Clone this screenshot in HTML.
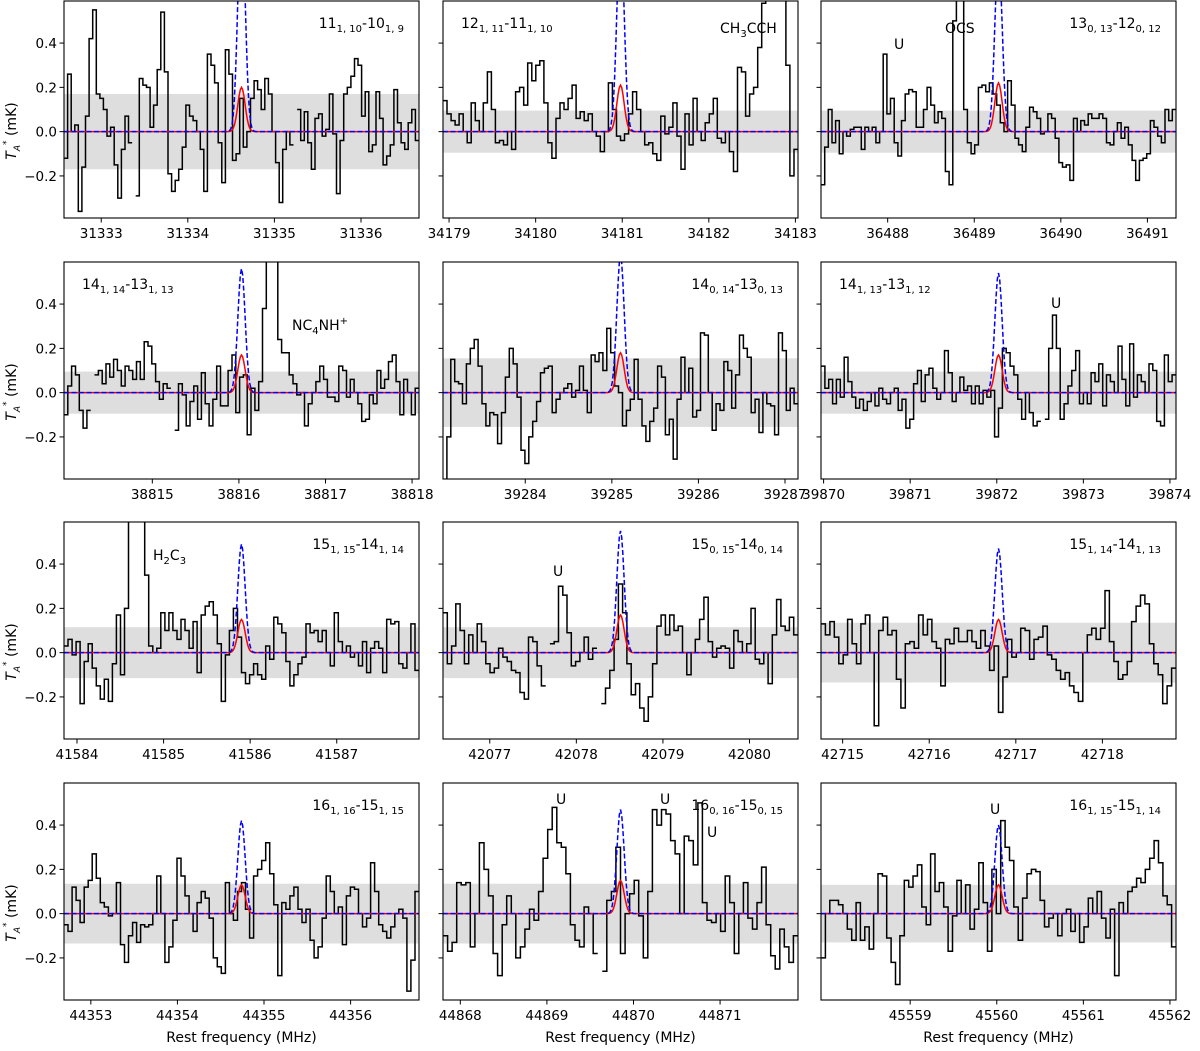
<!DOCTYPE html>
<html><head><meta charset="utf-8"><title>Spectra panels</title>
<style>
html,body{margin:0;padding:0;background:#fff;}
svg{display:block;font-family:"DejaVu Sans","Liberation Sans",sans-serif;}
</style></head>
<body>
<svg id="fig" width="1200" height="1051" viewBox="0 0 1200 1051" xmlns="http://www.w3.org/2000/svg"></svg>
<script>
// ---- data ----
const centers = [31334.62, 34180.98, 36489.28, 38816.03, 39285.1, 39872.02, 41585.9, 42078.51, 42716.8, 44354.74, 44869.85, 45560.02];
const rmsValues = [0.17, 0.095, 0.095, 0.095, 0.155, 0.095, 0.115, 0.115, 0.135, 0.135, 0.135, 0.13];
const redPeaks = [0.20, 0.21, 0.22, 0.17, 0.18, 0.17, 0.15, 0.17, 0.15, 0.13, 0.15, 0.13];
const bluePeaks = [1.0, 0.9, 0.8, 0.56, 0.62, 0.54, 0.49, 0.55, 0.47, 0.42, 0.47, 0.40];
const xTicks = [
 [31333,31334,31335,31336],[34179,34180,34181,34182,34183],[36488,36489,36490,36491],
 [38815,38816,38817,38818],[39284,39285,39286,39287],[39870,39871,39872,39873,39874],
 [41584,41585,41586,41587],[42077,42078,42079,42080],[42715,42716,42717,42718],
 [44353,44354,44355,44356],[44868,44869,44870,44871],[45559,45560,45561,45562]];
const yTicks = [-0.2, 0.0, 0.2, 0.4];
const yTickLabels = ["\u22120.2","0.0","0.2","0.4"];
const titles = [
 ["11","1, 10","10","1, 9"],["12","1, 11","11","1, 10"],["13","0, 13","12","0, 12"],
 ["14","1, 14","13","1, 13"],["14","0, 14","13","0, 13"],["14","1, 13","13","1, 12"],
 ["15","1, 15","14","1, 14"],["15","0, 15","14","0, 14"],["15","1, 14","14","1, 13"],
 ["16","1, 16","15","1, 15"],["16","0, 16","15","0, 15"],["16","1, 15","15","1, 14"]];
const spec0 = [-0.12,0.26,0.0,0.03,-0.36,-0.16,0.07,0.42,0.55,0.17,0.15,0.10,-0.02,0.02,-0.15,-0.30,-0.08,0.07,-0.05,null,-0.29,0.24,0.21,0.20,0.02,0.12,0.28,0.54,0.27,-0.19,-0.27,-0.22,-0.17,-0.07,0.12,0.07,0.05,0.0,-0.08,-0.27,0.35,0.30,0.22,-0.05,-0.23,0.37,0.26,-0.13,-0.10,0.15,-0.07,0.0,0.15,0.23,0.19,0.10,0.24,0.17,0.0,-0.14,-0.32,-0.08,0.0,-0.06,null,0.10,-0.04,0.09,-0.05,-0.17,0.06,0.08,-0.02,0.01,0.17,-0.01,-0.28,-0.04,0.17,0.20,0.25,0.33,0.30,0.07,0.18,-0.09,-0.06,0.18,0.06,-0.15,-0.11,-0.06,0.19,0.04,-0.05,-0.08,0.04,0.10,-0.04];
const spec1 = [0.14,0.08,0.05,0.03,0.08,0.00,-0.05,0.13,0.05,0.0,0.13,0.27,0.10,-0.05,-0.04,-0.06,0.0,-0.08,0.18,0.20,0.12,0.31,0.23,0.30,0.32,0.13,-0.05,-0.12,0.06,0.13,0.10,0.15,0.21,0.06,0.09,0.05,0.08,0.0,-0.02,-0.09,0.0,0.22,0.10,-0.02,-0.04,-0.01,0.08,0.18,0.10,0.0,-0.06,-0.05,-0.10,-0.13,0.07,-0.01,0.02,0.13,-0.02,-0.17,0.08,-0.06,0.15,0.0,-0.04,0.04,0.08,0.15,-0.03,-0.05,0.0,-0.09,-0.18,0.29,0.27,0.07,0.17,0.20,0.38,0.58,0.66,0.66,0.8,0.9,0.9,0.3,-0.2,-0.08];
const spec2 = [-0.24,-0.07,0.10,-0.05,0.05,-0.1,0.0,-0.02,0.01,0.02,0.02,-0.08,0.02,0.0,0.02,-0.05,0.0,0.35,0.08,0.15,-0.05,-0.11,0.05,0.17,0.19,0.18,0.02,0.02,0.10,0.20,0.12,0.04,0.09,0.06,-0.18,-0.24,0.5,1.0,1.0,0.1,-0.05,-0.1,-0.06,0.20,0.21,0.18,0.22,0.17,0.12,0.04,0.0,0.23,0.12,-0.03,-0.06,-0.09,0.02,0.11,0.09,0.06,-0.01,0.0,0.08,0.06,-0.03,-0.14,-0.16,-0.15,-0.22,0.06,0.0,0.05,0.03,0.08,0.06,0.06,0.08,0.06,-0.05,-0.06,0.0,0.04,-0.03,0.02,-0.06,-0.13,-0.22,-0.13,-0.12,-0.1,0.05,0.02,-0.02,-0.05,0.10,0.05,0.10];
const spec3 = [-0.1,0.03,0.12,0.08,-0.08,-0.16,-0.08,null,0.08,0.10,0.04,0.13,0.07,0.15,0.10,0.03,0.12,0.10,0.06,0.14,0.06,0.23,0.21,0.13,0.05,-0.03,0.04,0.02,null,-0.17,0.04,-0.01,-0.15,-0.04,0.03,-0.12,0.09,-0.05,-0.15,-0.03,0.12,-0.06,-0.06,0.10,0.17,-0.09,0.07,0.08,-0.19,0.02,-0.08,0.05,0.38,0.6,1.0,1.0,0.24,0.18,0.18,0.08,0.04,-0.01,0.0,-0.15,-0.05,0.0,0.05,0.12,0.06,-0.02,-0.02,-0.04,0.12,0.10,-0.02,0.06,0.0,-0.05,-0.13,-0.12,-0.01,-0.05,0.10,0.02,0.06,0.14,0.17,0.05,-0.10,0.06,0.0,-0.10,0.02];
const spec4 = [-0.5,-0.2,0.15,0.05,0.04,-0.05,0.13,0.20,0.24,0.12,-0.05,-0.15,-0.09,-0.10,-0.23,-0.09,0.07,0.20,0.13,-0.02,-0.26,-0.32,-0.20,-0.13,-0.04,0.09,0.11,0.12,-0.09,-0.03,0.0,0.02,0.04,-0.02,0.01,0.12,0.01,-0.09,0.17,0.14,0.18,0.10,0.29,0.18,0.03,0.0,-0.15,-0.08,-0.03,0.15,-0.03,-0.15,-0.22,-0.13,-0.07,0.12,0.07,-0.19,-0.12,-0.30,-0.03,0.16,0.0,0.11,-0.11,-0.08,0.27,0.26,0.0,-0.17,-0.05,-0.08,0.14,0.10,-0.07,0.08,0.26,0.20,0.16,-0.09,-0.03,-0.18,0.0,-0.05,-0.06,-0.19,0.27,0.19,-0.08,0.02,-0.05];
const spec5 = [0.12,0.02,0.06,-0.05,0.06,-0.02,0.16,0.05,-0.02,-0.07,-0.03,-0.08,-0.04,0.0,-0.06,0.02,-0.03,-0.05,0.0,0.02,-0.08,-0.03,-0.16,-0.12,0.04,0.10,-0.04,0.08,0.11,0.02,-0.03,0.0,0.19,0.09,-0.04,0.0,0.07,0.01,0.03,-0.05,0.03,-0.05,0.01,-0.02,0.01,-0.20,-0.07,0.20,0.18,0.12,0.08,-0.03,-0.12,0.0,-0.09,-0.15,-0.13,null,-0.12,0.2,0.35,0.20,-0.12,-0.05,0.03,0.10,0.19,-0.05,0.0,-0.05,0.09,0.05,0.13,-0.06,0.08,0.05,0.0,0.21,0.06,-0.06,0.22,-0.02,0.08,0.05,0.00,0.13,0.10,-0.13,-0.15,0.17,0.05,0.08];
const spec6 = [0.03,0.06,-0.01,0.05,-0.23,-0.04,0.04,-0.07,-0.15,-0.21,-0.12,-0.22,-0.05,0.17,-0.10,0.20,0.8,1.0,1.0,0.80,0.35,0.03,0.0,0.02,0.18,0.10,0.18,0.10,0.06,0.15,0.10,0.02,0.14,-0.09,0.17,0.21,0.23,0.17,0.04,-0.22,-0.01,0.10,0.20,0.07,-0.09,-0.14,-0.10,-0.05,-0.10,-0.12,0.03,-0.03,0.16,0.13,0.09,-0.04,-0.15,-0.10,-0.05,-0.02,0.13,0.09,0.10,0.05,0.10,0.0,-0.06,0.18,0.05,0.0,0.03,-0.02,0.0,-0.06,0.05,-0.09,0.02,0.05,0.02,-0.09,0.15,0.13,0.14,-0.05,-0.07,0.0,0.13,-0.08];
const spec7 = [0.18,-0.05,0.03,0.22,0.10,-0.05,0.08,0.0,0.13,0.05,-0.05,-0.09,-0.07,0.02,-0.02,-0.04,-0.08,-0.09,-0.18,-0.21,0.07,0.05,-0.06,-0.15,null,0.04,0.05,0.30,0.26,0.09,-0.06,-0.04,0.0,0.07,-0.03,0.02,null,-0.23,-0.16,-0.08,0.06,0.31,0.18,-0.05,-0.19,-0.14,-0.25,-0.31,-0.20,-0.05,0.12,0.17,0.08,0.17,0.10,0.12,0.0,-0.10,0.0,0.06,0.15,0.25,0.05,-0.02,0.02,0.03,0.02,-0.07,0.10,0.05,0.0,0.04,0.20,-0.03,-0.05,0.0,-0.14,0.08,0.24,0.12,0.10,0.16,0.08];
const spec8 = [0.13,0.08,0.14,0.07,-0.05,-0.01,0.15,0.04,-0.05,0.13,0.17,0.0,-0.33,0.10,0.16,0.08,0.10,-0.12,-0.25,0.04,0.05,0.02,0.17,0.08,0.15,0.05,0.02,-0.15,0.06,0.04,0.11,0.05,0.05,0.10,0.05,0.02,0.10,0.03,-0.08,0.03,-0.27,-0.11,0.06,-0.02,0.0,0.11,0.10,-0.03,0.06,0.07,0.12,-0.01,-0.03,-0.08,-0.12,-0.09,-0.15,-0.18,-0.22,0.0,0.08,0.11,0.06,0.11,0.28,0.05,-0.04,-0.12,-0.10,-0.04,0.14,0.21,0.26,0.22,0.04,-0.05,-0.10,-0.23,-0.15,-0.07];
const spec9 = [-0.05,-0.08,0.12,0.06,-0.04,0.12,0.15,0.27,0.16,0.05,0.03,-0.01,0.0,0.14,-0.14,-0.22,-0.10,-0.04,-0.13,-0.05,-0.06,-0.05,0.0,0.17,0.0,-0.22,-0.15,-0.03,0.25,0.17,0.08,0.0,-0.08,0.05,0.10,0.07,-0.02,-0.20,-0.24,-0.27,0.14,0.0,-0.03,0.10,0.14,0.02,-0.11,0.17,0.20,0.24,0.32,0.18,0.04,-0.28,0.05,0.02,0.08,0.12,0.02,-0.04,0.02,-0.12,-0.20,-0.15,-0.02,0.17,0.10,0.0,0.03,-0.14,0.08,0.12,0.11,0.0,-0.06,-0.02,0.23,0.10,-0.05,-0.08,-0.11,-0.06,0.0,0.02,-0.02,-0.35,-0.21,0.10];
const spec10 = [-0.10,-0.17,-0.13,0.14,0.13,0.14,-0.15,0.0,0.32,0.20,0.08,-0.18,-0.28,-0.05,0.08,0.0,-0.20,-0.15,-0.07,0.02,-0.03,0.10,0.25,0.38,0.48,0.32,0.30,0.18,-0.05,-0.12,-0.15,0.03,0.0,-0.18,null,-0.26,0.06,0.10,0.30,-0.18,0.0,0.09,0.15,-0.01,-0.20,0.10,0.47,0.40,0.47,0.45,0.33,0.27,0.0,0.35,0.33,0.22,0.50,0.05,-0.03,-0.04,0.0,-0.08,0.17,0.05,-0.18,0.0,0.14,-0.02,-0.07,0.05,0.21,-0.05,-0.19,-0.25,-0.07,-0.15,-0.22,-0.10];
const spec11 = [-0.20,0.0,0.06,0.06,0.04,0.0,-0.07,-0.12,0.05,-0.12,-0.06,-0.16,0.0,0.18,0.17,-0.11,-0.22,-0.32,-0.10,0.15,0.12,0.17,0.22,0.03,-0.05,0.27,0.10,0.14,0.03,-0.17,-0.01,0.15,0.0,0.13,-0.07,0.02,0.23,0.05,-0.17,0.20,0.0,0.42,0.30,0.24,0.03,-0.12,0.07,0.18,0.20,0.19,0.06,-0.06,-0.02,0.0,-0.10,0.0,0.02,-0.08,0.0,-0.13,-0.06,0.07,0.0,0.10,-0.02,-0.11,0.02,-0.28,0.05,0.0,0.10,0.12,0.16,0.14,0.20,0.25,0.33,0.23,0.08,0.04,-0.15];
const spectra = [spec0,spec1,spec2,spec3,spec4,spec5,spec6,spec7,spec8,spec9,spec10,spec11];

// ---- layout ----
const NS = "http://www.w3.org/2000/svg";
const svg = document.getElementById('fig');
const colX = [64, 443, 821], rowY = [1, 262, 522, 783];
const PW = 355, PH = 217, HALF = 2.05, YMIN = -0.39, YMAX = 0.59, SIG = 0.042;
function mk(tag, attrs, parent){ const e=document.createElementNS(NS,tag); for(const k in attrs) e.setAttribute(k,attrs[k]); (parent||svg).appendChild(e); return e; }
function txt(x,y,s,attrs,parent){ const t=mk('text',Object.assign({x:x,y:y,'font-size':13.5,fill:'#000'},attrs||{}),parent); t.textContent=s; return t; }

const titlePos = ['r','l','r','l','r','l','r','r','r','r','r','r'];

for(let p=0;p<12;p++){
  const r=Math.floor(p/3), c=p%3, X0=colX[c], Y0=rowY[r];
  const fmin=centers[p]-HALF, fmax=centers[p]+HALF;
  const sx=f=>X0+(f-fmin)/(fmax-fmin)*PW;
  const sy=v=>Y0+(YMAX-v)/(YMAX-YMIN)*PH;
  const g=mk('g',{});
  
  
  const cp=mk('clipPath',{id:'cp'+p},g); mk('rect',{x:X0,y:Y0,width:PW,height:PH},cp);
  const band=mk('rect',{x:X0,y:sy(rmsValues[p]),width:PW,height:sy(-rmsValues[p])-sy(rmsValues[p]),fill:'#dedede'},g);
  
  
  const data=spectra[p], n=data.length, dw=(fmax-fmin)/n;
  let d='', pen=false;
  for(let i=0;i<n;i++){
    const v=data[i];
    if(v===null){pen=false;continue;}
    const xa=sx(fmin+i*dw), xb=sx(fmin+(i+1)*dw), y=sy(v);
    d+=(pen?'L':'M')+xa.toFixed(1)+' '+y.toFixed(1)+'L'+xb.toFixed(1)+' '+y.toFixed(1);
    pen=true;
  }
  const sp=mk('path',{d:d,fill:'none',stroke:'#000','stroke-width':1.5,'clip-path':'url(#cp'+p+')'},g);
  
  
  function gauss(amp){ let s=''; const N=300; for(let k=0;k<=N;k++){ const f=fmin+k*(fmax-fmin)/N; const v=amp*Math.exp(-0.5*Math.pow((f-centers[p])/SIG,2)); s+=(k?'L':'M')+sx(f).toFixed(2)+' '+sy(v).toFixed(2);} return s; }
  const red=mk('path',{d:gauss(redPeaks[p]),fill:'none',stroke:'#ff0000','stroke-width':1.5,'clip-path':'url(#cp'+p+')'},g);
  
  
  const blue=mk('path',{d:gauss(bluePeaks[p]),fill:'none',stroke:'#0000ff','stroke-width':1.5,'stroke-dasharray':'5,2.5','clip-path':'url(#cp'+p+')'},g);
  
  
  mk('rect',{x:X0,y:Y0,width:PW,height:PH,fill:'none',stroke:'#000','stroke-width':1.1},g);
  xTicks[p].forEach(t=>{ const x=sx(t); if(x<X0-0.5||x>X0+PW+0.5) return;
    mk('line',{x1:x,y1:Y0+PH,x2:x,y2:Y0+PH+4.5,stroke:'#000','stroke-width':1},g);
    const tl=txt(x,Y0+PH+20,String(t),{'text-anchor':'middle'},g);
    
    
  });
  yTicks.forEach((t,i)=>{ const y=sy(t);
    mk('line',{x1:X0-4.5,y1:y,x2:X0,y2:y,stroke:'#000','stroke-width':1},g);
    if(c===0){ const yl=txt(X0-7,y+5,yTickLabels[i],{'text-anchor':'end'},g);
      
       }
  });
  const tt=titles[p];
  const tEl=txt(0,Y0+27,'',{'font-size':14},g);
  
  
  tEl.innerHTML=tt[0]+'<tspan font-size="10" dy="4">'+tt[1]+'</tspan><tspan dy="-4">-'+tt[2]+'</tspan><tspan font-size="10" dy="4">'+tt[3]+'</tspan>';
  if(titlePos[p]==='r'){ tEl.setAttribute('x',X0+PW-15); tEl.setAttribute('text-anchor','end'); }
  else { tEl.setAttribute('x',X0+18); }
  if(c===0){
    const yt=txt(0,0,'',{'font-size':14,transform:'translate('+(16)+','+(Y0+130)+') rotate(-90)','text-anchor':'middle'},g);
    
    
    yt.innerHTML='<tspan font-style="italic">T</tspan><tspan font-size="9" dy="4" font-style="italic">A</tspan><tspan font-size="9" dy="-11">*</tspan><tspan dy="7"> (mK)</tspan>';
  }
  if(r===3){
    const xt=txt(X0+PW/2,Y0+PH+42,'Rest frequency (MHz)',{'text-anchor':'middle','font-size':14},g);
    
    
  }
}
const notes=[[720,33,'CH<tspan font-size="10" dy="4">3</tspan><tspan dy="-4">CCH</tspan>'],[894,49,'U'],[945,33,'OCS'],
 [292,330,'NC<tspan font-size="10" dy="4">4</tspan><tspan dy="-4">NH</tspan><tspan font-size="10" dy="-6">+</tspan>'],
 [1051,308,'U'],[153,560,'H<tspan font-size="10" dy="4">2</tspan><tspan dy="-4">C</tspan><tspan font-size="10" dy="4">3</tspan>'],
 [553,576,'U'],[556,804,'U'],[660,804,'U'],[707,837,'U'],[990,814,'U']];
notes.forEach(n=>{ const t=txt(n[0],n[1],'',{'font-size':14});
  
  
  t.innerHTML=n[2]; });
</script>
</body></html>
